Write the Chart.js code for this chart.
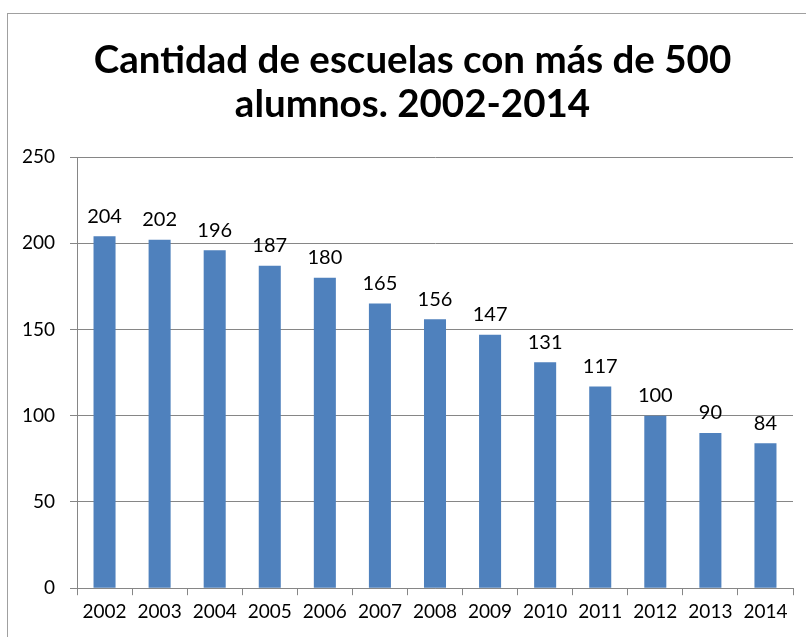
<!DOCTYPE html>
<html>
<head>
<meta charset="utf-8">
<script src="https://cdn.jsdelivr.net/npm/chart.js@4/dist/chart.umd.min.js"></script>
<style>
  html, body { margin: 0; padding: 0; background: #fff; overflow: hidden; }
  #frame { position: absolute; left: 7px; top: 13px; width: 820px; height: 660px; border: 1.5px solid #a0a0a0; box-sizing: border-box; }
  #wrap { position: absolute; left: 0; top: 0; width: 806px; height: 637px; }
</style>
</head>
<body>
<div id="frame"></div>
<div id="wrap"><canvas id="c" width="806" height="637"></canvas></div>
<script>
const years = ["2002","2003","2004","2005","2006","2007","2008","2009","2010","2011","2012","2013","2014"];
const schools = [204, 202, 196, 187, 180, 165, 156, 147, 131, 117, 100, 90, 84];
const titleLines = ["Cantidad de escuelas con más de 500", "alumnos. 2002-2014"];
const yTicks = [0, 50, 100, 150, 200, 250];

const FONT = "Lato, 'Liberation Sans', sans-serif";

const labelPlugin = {
  id: 'barLabels',
  afterDatasetsDraw(chart) {
    const ctx = chart.ctx;
    const meta = chart.getDatasetMeta(0);
    ctx.save();
    ctx.font = "20px " + FONT;
    ctx.fillStyle = "#000";
    ctx.textAlign = "center";
    ctx.textBaseline = "bottom";
    meta.data.forEach((bar, i) => {
      ctx.fillText(String(schools[i]), bar.x, bar.y - 10);
    });
    ctx.restore();
  }
};

const chart = new Chart(document.getElementById('c'), {
  type: 'bar',
  data: {
    labels: years,
    datasets: [{
      data: schools,
      backgroundColor: '#4F81BD',
      borderWidth: 0,
      categoryPercentage: 1.0,
      barPercentage: 0.4
    }]
  },
  options: {
    responsive: false,
    animation: false,
    devicePixelRatio: 1,
    layout: { padding: { left: 0, right: 13, top: 0, bottom: 9 } },
    plugins: {
      legend: { display: false },
      tooltip: { enabled: false },
      title: {
        display: true,
        text: titleLines,
        color: '#000',
        font: { family: FONT, size: 38.5, weight: 'bold', lineHeight: 1.13 },
        padding: { top: 39, bottom: 31 }
      }
    },
    scales: {
      x: {
        grid: { display: true, drawOnChartArea: false, drawTicks: true, tickLength: 7, color: '#868686', offset: true },
        border: { display: true, color: '#868686', width: 1 },
        ticks: { color: '#000', font: { family: FONT, size: 19 }, padding: 5, maxRotation: 0, autoSkip: false }
      },
      y: {
        min: 0, max: 250,
        afterBuildTicks(scale) { scale.ticks = yTicks.map(v => ({ value: v })); },
        afterFit(scale) { scale.width = 77; },
        grid: { color: '#868686', tickLength: 7, drawTicks: true },
        border: { display: true, color: '#868686', width: 1 },
        ticks: { color: '#000', font: { family: FONT, size: 19 }, padding: 15 }
      }
    }
  },
  plugins: [labelPlugin]
});

// shift the title block so it is centred like the reference
const tb = chart.titleBlock;
const origDraw = tb.draw.bind(tb);
tb.draw = function () {
  const ctx = chart.ctx;
  ctx.save();
  ctx.translate(16, 0);
  origDraw();
  ctx.restore();
};
chart.draw();
</script>
</body>
</html>
